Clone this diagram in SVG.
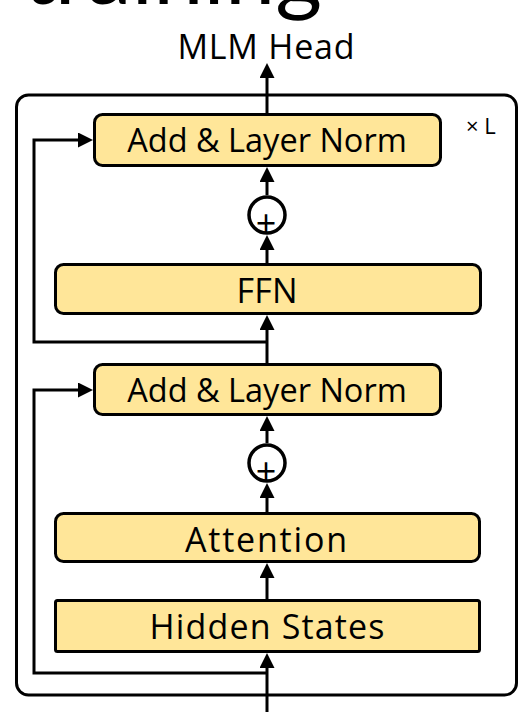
<svg xmlns="http://www.w3.org/2000/svg" width="519" height="712" viewBox="0 0 519 712">
<style>
.box{fill:#FFE699;stroke:#000;stroke-width:3}
.lbl{font-family:"Open Sans","Noto Sans","Liberation Sans",sans-serif;font-size:34px;fill:#000;text-anchor:middle}
.aln{font-size:32.5px}
.con{fill:none;stroke:#000;stroke-width:3}
.add{fill:#fff;stroke:#000;stroke-width:3.5}
.plus{font-family:"Open Sans","Liberation Sans",sans-serif;font-size:36px;fill:#000;text-anchor:middle}
</style>
<defs>
<marker id="ah" viewBox="0 0 10 10" refX="3.33" refY="5" markerWidth="15" markerHeight="15" markerUnits="userSpaceOnUse" orient="auto">
<path d="M0,0 L10,5 L0,10 z" fill="#000"/>
</marker>
</defs>
<rect width="519" height="712" fill="#fff"/>
<text x="322" y="4" font-family="Lato,'Liberation Sans',sans-serif" font-size="90" text-anchor="end">training</text>
<g id="container"><rect x="16.5" y="95" width="500" height="600" rx="12" fill="none" stroke="#000" stroke-width="3"/>
<text x="466" y="134" font-family="'Open Sans','Liberation Sans',sans-serif" font-size="22">× L</text></g>
<g id="mlm-head"><text class="lbl" x="266" y="59" textLength="177">MLM Head</text></g>
<g id="connectors">
<path class="con" d="M267 712 V663" marker-end="url(#ah)"/>
<path class="con" d="M267 599 V573" marker-end="url(#ah)"/>
<path class="con" d="M267 512 V493" marker-end="url(#ah)"/>
<path class="con" d="M267 443 V426" marker-end="url(#ah)"/>
<path class="con" d="M267 673 H34 V390 H83" marker-end="url(#ah)"/>
<path class="con" d="M267 363 V325" marker-end="url(#ah)"/>
<path class="con" d="M267 342 H34 V140 H83" marker-end="url(#ah)"/>
<path class="con" d="M267 263 V245" marker-end="url(#ah)"/>
<path class="con" d="M267 195 V177" marker-end="url(#ah)"/>
<path class="con" d="M267 113 V73" marker-end="url(#ah)"/>
</g>
<g id="add-norm-2"><rect class="box" x="94.5" y="114.5" width="346" height="51" rx="8"/><text class="lbl aln" x="267" y="152">Add &amp; Layer Norm</text></g>
<g id="plus-2"><circle class="add" cx="267" cy="215" r="18"/><text class="plus" x="266" y="236">+</text></g>
<g id="ffn"><rect class="box" x="55.5" y="264.5" width="425" height="49" rx="8"/><text class="lbl" x="267" y="303" textLength="61">FFN</text></g>
<g id="add-norm-1"><rect class="box" x="94.5" y="364.5" width="346" height="50" rx="8"/><text class="lbl aln" x="267" y="402">Add &amp; Layer Norm</text></g>
<g id="plus-1"><circle class="add" cx="267" cy="463" r="18"/><text class="plus" x="266" y="484">+</text></g>
<g id="attention"><rect class="box" x="55.5" y="513.5" width="424" height="48" rx="8"/><text class="lbl" x="266" y="552" textLength="162">Attention</text></g>
<g id="hidden-states"><rect class="box" x="55.5" y="600.5" width="424" height="51" rx="2"/><text class="lbl" x="267" y="639" textLength="235">Hidden States</text></g>
</svg>
